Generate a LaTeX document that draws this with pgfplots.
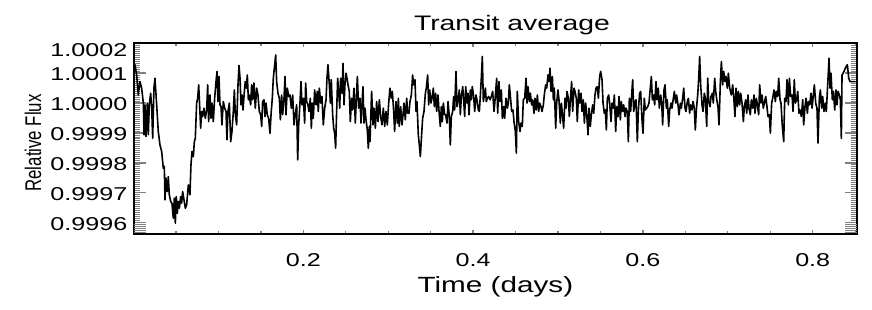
\documentclass[border=0pt]{standalone}
\usepackage{fontspec}
\setmainfont{Liberation Sans}[FakeStretch=1.35]
\newfontfamily\plainsans{Liberation Sans}
\usepackage{pgfplots}
\pgfplotsset{compat=1.18}

% transit light curve
\pgfplotstableread{
x y
0.0005 1.000128
0.0017 1.000128
0.0036 1.000094
0.0056 1.000027
0.0075 1.000072
0.0095 1.000050
0.0115 1.000000
0.0123 0.999894
0.0134 0.999994
0.0146 0.999888
0.0162 1.000000
0.0174 0.999894
0.0185 0.999994
0.0201 1.000033
0.0213 0.999988
0.0225 0.999882
0.0240 1.000050
0.0252 1.000083
0.0272 0.999994
0.0291 0.999905
0.0311 0.999860
0.0331 0.999838
0.0350 0.999782
0.0362 0.999788
0.0370 0.999676
0.0382 0.999749
0.0397 0.999704
0.0409 0.999754
0.0421 0.999693
0.0437 0.999671
0.0452 0.999665
0.0468 0.999615
0.0480 0.999682
0.0492 0.999598
0.0503 0.999687
0.0515 0.999631
0.0527 0.999671
0.0539 0.999648
0.0555 0.999687
0.0566 0.999665
0.0578 0.999704
0.0594 0.999676
0.0610 0.999648
0.0625 0.999659
0.0645 0.999726
0.0664 0.999693
0.0676 0.999793
0.0688 0.999838
0.0704 0.999821
0.0716 0.999871
0.0727 0.999882
0.0743 1.000000
0.0755 1.000016
0.0767 1.000061
0.0778 0.999994
0.0790 0.999916
0.0802 0.999972
0.0814 0.999955
0.0829 0.999983
0.0845 0.999949
0.0861 0.999977
0.0873 1.000061
0.0884 0.999938
0.0900 1.000027
0.0912 0.999949
0.0924 1.000000
0.0939 0.999938
0.0955 1.000016
0.0971 1.000072
0.0983 1.000106
0.0994 1.000005
0.1006 1.000089
0.1018 0.999994
0.1030 0.999988
0.1041 0.999927
0.1057 1.000005
0.1073 0.999983
0.1089 0.999972
0.1100 0.999877
0.1112 0.999972
0.1128 1.000000
0.1144 0.999871
0.1159 0.999905
0.1175 0.999972
0.1187 1.000044
0.1199 0.999961
0.1214 0.999927
0.1230 1.000061
0.1242 1.000126
0.1254 1.000083
0.1265 0.999994
0.1277 1.000027
0.1289 0.999977
0.1305 1.000039
0.1316 1.000072
0.1328 1.000050
0.1340 1.000094
0.1352 1.000011
0.1363 1.000027
0.1379 0.999994
0.1391 1.000061
0.1403 1.000011
0.1418 1.000067
0.1434 0.999983
0.1450 1.000050
0.1465 1.000027
0.1481 0.999972
0.1497 0.999961
0.1509 0.999922
0.1520 1.000005
0.1536 1.000011
0.1548 0.999955
0.1560 1.000000
0.1575 0.999961
0.1591 0.999949
0.1607 0.999899
0.1619 0.999961
0.1634 1.000016
0.1646 1.000083
0.1662 1.000128
0.1674 1.000161
0.1685 1.000072
0.1701 1.000033
0.1717 1.000016
0.1729 0.999944
0.1744 1.000027
0.1756 0.999961
0.1772 1.000016
0.1784 1.000089
0.1795 0.999961
0.1811 1.000050
0.1827 1.000022
0.1842 1.000027
0.1858 0.999983
0.1874 1.000027
0.1890 0.999927
0.1905 0.999961
0.1921 0.999994
0.1933 0.999810
0.1945 0.999927
0.1960 1.000000
0.1972 1.000072
0.1984 0.999994
0.2000 1.000016
0.2015 0.999933
0.2027 1.000067
0.2039 1.000005
0.2054 0.999994
0.2066 0.999972
0.2082 1.000016
0.2094 0.999916
0.2106 1.000000
0.2117 0.999949
0.2133 1.000044
0.2149 0.999994
0.2164 1.000039
0.2176 0.999972
0.2188 1.000050
0.2204 1.000000
0.2219 1.000022
0.2235 0.999927
0.2251 0.999983
0.2267 1.000011
0.2278 1.000083
0.2290 1.000128
0.2306 1.000061
0.2318 1.000000
0.2329 1.000078
0.2345 0.999961
0.2357 0.999916
0.2369 0.999899
0.2380 0.999849
0.2392 0.999972
0.2404 1.000083
0.2416 1.000039
0.2428 0.999983
0.2439 1.000083
0.2455 1.000033
0.2467 1.000133
0.2479 0.999994
0.2490 1.000061
0.2502 1.000100
0.2514 1.000083
0.2526 1.000061
0.2541 1.000039
0.2553 0.999938
0.2569 1.000016
0.2580 0.999977
0.2596 1.000050
0.2612 0.999933
0.2624 1.000016
0.2636 1.000089
0.2651 0.999983
0.2667 1.000016
0.2679 0.999933
0.2690 0.999994
0.2702 1.000055
0.2714 0.999933
0.2726 0.999983
0.2738 0.999944
0.2753 0.999910
0.2765 0.999849
0.2777 0.999922
0.2785 0.999871
0.2804 1.000039
0.2820 0.999927
0.2832 0.999983
0.2848 0.999916
0.2863 1.000005
0.2879 0.999938
0.2895 1.000011
0.2910 0.999955
0.2926 0.999927
0.2942 0.999983
0.2958 0.999922
0.2973 0.999972
0.2989 0.999927
0.3005 1.000000
0.3020 1.000050
0.3036 1.000016
0.3048 1.000039
0.3064 0.999972
0.3075 0.999905
0.3091 1.000005
0.3107 0.999933
0.3119 1.000016
0.3130 0.999922
0.3146 0.999988
0.3162 0.999927
0.3174 0.999961
0.3185 1.000000
0.3201 0.999944
0.3217 1.000016
0.3229 0.999966
0.3244 0.999966
0.3256 1.000005
0.3272 1.000027
0.3287 1.000094
0.3299 1.000061
0.3315 1.000078
0.3327 0.999972
0.3338 1.000005
0.3354 0.999894
0.3366 0.999860
0.3378 0.999821
0.3393 0.999894
0.3405 0.999949
0.3421 0.999972
0.3437 1.000033
0.3448 1.000050
0.3464 1.000094
0.3476 0.999994
0.3488 1.000044
0.3503 1.000000
0.3515 1.000016
0.3531 1.000050
0.3543 0.999988
0.3558 1.000033
0.3570 0.999972
0.3586 1.000027
0.3598 0.999972
0.3613 0.999922
0.3625 0.999988
0.3637 0.999938
0.3649 1.000000
0.3664 0.999961
0.3676 0.999961
0.3692 0.999933
0.3704 1.000005
0.3719 0.999955
0.3731 0.999860
0.3743 0.999955
0.3759 0.999972
0.3770 1.000022
0.3782 0.999977
0.3798 1.000106
0.3810 0.999988
0.3822 1.000005
0.3837 1.000044
0.3849 0.999961
0.3861 1.000022
0.3877 1.000055
0.3888 1.000011
0.3900 0.999955
0.3912 1.000055
0.3928 1.000000
0.3939 1.000033
0.3951 0.999961
0.3967 1.000044
0.3979 1.000011
0.3990 1.000055
0.4006 1.000022
0.4018 0.999972
0.4034 1.000027
0.4045 1.000011
0.4061 0.999977
0.4073 0.999972
0.4085 1.000027
0.4096 1.000083
0.4108 1.000156
0.4120 1.000005
0.4132 1.000027
0.4144 1.000050
0.4155 1.000005
0.4167 1.000016
0.4183 1.000022
0.4199 1.000011
0.4214 1.000022
0.4230 1.000039
0.4246 0.999972
0.4261 1.000022
0.4277 1.000083
0.4289 0.999966
0.4304 1.000072
0.4316 1.000005
0.4332 1.000044
0.4344 0.999949
0.4359 0.999988
0.4371 0.999949
0.4387 1.000016
0.4403 0.999983
0.4414 1.000000
0.4426 1.000061
0.4442 1.000011
0.4454 0.999972
0.4469 0.999977
0.4481 0.999938
0.4497 0.999905
0.4509 0.999832
0.4520 1.000039
0.4536 0.999938
0.4552 0.999905
0.4564 0.999933
0.4579 0.999922
0.4591 1.000011
0.4607 1.000016
0.4623 1.000083
0.4634 1.000000
0.4646 1.000055
0.4662 1.000005
0.4674 1.000033
0.4689 0.999994
0.4701 1.000011
0.4717 0.999966
0.4728 1.000016
0.4744 0.999977
0.4756 1.000027
0.4772 0.999972
0.4784 1.000000
0.4799 0.999988
0.4811 0.999972
0.4827 0.999994
0.4838 1.000027
0.4854 1.000061
0.4866 1.000050
0.4882 1.000094
0.4893 1.000072
0.4905 1.000117
0.4917 1.000039
0.4933 1.000089
0.4945 1.000011
0.4956 1.000050
0.4972 0.999916
0.4984 1.000000
0.4999 1.000044
0.5011 1.000011
0.5027 0.999933
0.5039 1.000000
0.5054 0.999955
0.5066 0.999916
0.5082 1.000016
0.5094 0.999983
0.5106 1.000039
0.5121 1.000016
0.5133 0.999955
0.5149 1.000027
0.5160 1.000072
0.5172 0.999972
0.5188 1.000050
0.5200 1.000039
0.5215 1.000016
0.5227 0.999938
0.5243 1.000044
0.5255 1.000000
0.5270 1.000033
0.5282 0.999972
0.5298 1.000011
0.5310 0.999933
0.5325 1.000000
0.5337 0.999966
0.5353 0.999894
0.5365 0.999983
0.5380 0.999922
0.5392 0.999961
0.5408 0.999994
0.5420 0.999966
0.5435 1.000027
0.5447 1.000050
0.5463 1.000055
0.5475 1.000016
0.5490 1.000089
0.5502 1.000106
0.5518 1.000078
0.5530 1.000000
0.5545 0.999966
0.5557 0.999977
0.5569 0.999910
0.5581 1.000016
0.5596 1.000027
0.5608 1.000000
0.5624 0.999938
0.5636 1.000000
0.5651 0.999983
0.5663 1.000027
0.5679 0.999905
0.5691 0.999988
0.5706 0.999955
0.5718 1.000022
0.5734 0.999944
0.5745 1.000005
0.5761 0.999972
0.5773 0.999994
0.5789 0.999955
0.5800 0.999983
0.5816 0.999972
0.5828 0.999871
0.5840 1.000016
0.5855 0.999972
0.5867 1.000027
0.5879 1.000078
0.5891 0.999972
0.5906 1.000005
0.5918 1.000011
0.5934 0.999871
0.5946 0.999977
0.5961 1.000033
0.5973 1.000039
0.5989 0.999944
0.6001 0.999899
0.6016 1.000016
0.6028 0.999977
0.6044 0.999983
0.6056 0.999988
0.6071 1.000000
0.6083 1.000039
0.6099 1.000089
0.6111 1.000011
0.6126 1.000027
0.6138 0.999994
0.6154 1.000072
0.6166 1.000011
0.6181 1.000050
0.6193 0.999983
0.6209 1.000027
0.6221 1.000000
0.6232 0.999927
0.6248 1.000044
0.6260 1.000061
0.6276 0.999983
0.6287 1.000011
0.6303 0.999922
0.6315 0.999977
0.6331 1.000000
0.6342 0.999983
0.6358 1.000016
0.6370 1.000039
0.6386 1.000000
0.6397 1.000027
0.6413 0.999994
0.6425 0.999961
0.6441 1.000000
0.6452 0.999983
0.6468 1.000016
0.6480 1.000050
0.6496 0.999983
0.6507 0.999972
0.6523 1.000005
0.6535 1.000016
0.6550 0.999966
0.6562 0.999994
0.6578 0.999977
0.6590 1.000005
0.6605 0.999983
0.6617 0.999910
0.6629 0.999977
0.6645 1.000027
0.6657 1.000083
0.6668 1.000156
0.6680 1.000061
0.6696 0.999994
0.6708 0.999972
0.6723 1.000033
0.6735 1.000016
0.6751 0.999922
0.6763 1.000083
0.6774 1.000005
0.6790 0.999988
0.6802 1.000022
0.6818 1.000033
0.6829 1.000000
0.6845 1.000083
0.6857 1.000039
0.6873 1.000005
0.6884 0.999988
0.6896 0.999927
0.6912 1.000072
0.6924 1.000139
0.6939 1.000061
0.6951 1.000106
0.6967 1.000072
0.6979 1.000089
0.6994 1.000050
0.7006 1.000100
0.7022 1.000050
0.7041 1.000027
0.7057 1.000061
0.7069 1.000022
0.7084 0.999955
0.7096 1.000050
0.7112 0.999988
0.7124 1.000039
0.7139 0.999994
0.7151 1.000033
0.7167 1.000000
0.7183 0.999938
0.7194 0.999988
0.7210 1.000011
0.7222 0.999966
0.7238 1.000027
0.7249 0.999983
0.7265 0.999961
0.7277 1.000011
0.7293 0.999983
0.7308 1.000027
0.7320 0.999966
0.7336 1.000016
0.7348 0.999994
0.7363 0.999961
0.7375 1.000061
0.7391 1.000000
0.7403 1.000027
0.7418 0.999983
0.7434 1.000005
0.7446 1.000022
0.7461 0.999988
0.7473 0.999955
0.7489 0.999961
0.7501 0.999899
0.7516 1.000000
0.7528 1.000016
0.7544 1.000044
0.7560 1.000005
0.7571 1.000039
0.7587 1.000022
0.7599 1.000083
0.7615 1.000011
0.7626 1.000000
0.7642 0.999922
0.7658 0.999871
0.7670 1.000016
0.7685 1.000005
0.7697 1.000078
0.7713 0.999994
0.7725 1.000083
0.7740 1.000022
0.7756 1.000027
0.7768 0.999972
0.7783 1.000078
0.7795 1.000000
0.7811 1.000011
0.7823 1.000039
0.7838 0.999966
0.7850 0.999977
0.7866 0.999955
0.7882 1.000011
0.7893 0.999927
0.7909 0.999988
0.7921 1.000016
0.7937 0.999966
0.7948 1.000005
0.7964 0.999994
0.7980 1.000033
0.7992 0.999983
0.8007 1.000027
0.8019 1.000061
0.8035 1.000000
0.8050 0.999983
0.8062 0.999866
0.8078 1.000016
0.8090 1.000044
0.8105 0.999983
0.8117 1.000022
0.8133 0.999972
0.8149 1.000000
0.8160 0.999972
0.8176 1.000061
0.8192 1.000150
0.8204 1.000050
0.8215 1.000100
0.8231 1.000011
0.8243 1.000039
0.8259 0.999977
0.8274 1.000044
0.8286 0.999994
0.8298 1.000039
0.8314 1.000027
0.8325 1.000011
0.8337 0.999882
0.8345 1.000094
0.8369 1.000106
0.8392 1.000122
0.8408 1.000128
0.8424 1.000083
0.8439 1.000072
0.8505 1.000072
}\transit

\begin{document}
\begin{tikzpicture}
\useasboundingbox (0,0) rectangle (872bp,310bp);
\begin{axis}[
  at={(134bp,76bp)}, anchor=south west,
  scale only axis, width=722.7bp, height=191.3bp,
  xmin=0.0005, xmax=0.8518,
  ymin=0.999562, ymax=1.000202,
  tick pos=both, tick align=inside,
  xtick={0.2,0.4,0.6,0.8},
  minor xtick={0.05,0.1,0.15,0.25,0.3,0.35,0.45,0.5,0.55,0.65,0.7,0.75,0.85},
  ytick={0.9996,0.9997,0.9998,0.9999,1.0000,1.0001,1.0002},
  yticklabels={0.9996,0.9997,0.9998,0.9999,1.0000,1.0001,{\raisebox{-6bp}[\height][\depth]{1.0002}}},
  minor y tick num=14,
  extra y ticks={0.9995933,0.9995867,0.99958,0.9995733,0.9995667},
  extra y tick labels={},
  extra y tick style={major tick length=6bp, every major tick/.append style={line width=0.9bp}},
  scaled x ticks=false, scaled y ticks=false,
  xticklabel style={anchor=base, yshift=-32.5bp},
  yticklabel style={anchor=east, inner sep=0pt, xshift=-6.5bp, yshift=-1.3bp},
  tick label style={font=\fontsize{18.6bp}{22bp}\selectfont},
  /pgf/number format/assume math mode=true,
  xtick style={/pgfplots/major tick length=4bp, line width=1.4bp},
  minor x tick style={/pgfplots/minor tick length=3bp, line width=1.2bp},
  ytick style={/pgfplots/major tick length=12bp, line width=1.4bp},
  minor y tick style={/pgfplots/minor tick length=6bp, line width=0.9bp},
  axis line style={line width=1.8bp},
  title={Transit average},
  title style={at={(0.523,1)}, anchor=base, yshift=6bp,
               font=\fontsize{21bp}{25bp}\selectfont},
  xlabel={Time (days)},
  xlabel style={at={(0.5,0)}, anchor=base, yshift=-58bp,
                font=\fontsize{22bp}{26bp}\selectfont},
  ylabel={\scalebox{1}[1.35]{Relative Flux}},
  ylabel style={at={(0,0.476)}, anchor=center, yshift=101bp,
                font=\plainsans\fontsize{16.8bp}{20bp}\selectfont},
]
\addplot[black, line width=1.6bp, line join=round] table[x=x, y=y] {\transit};
\end{axis}
\end{tikzpicture}
\end{document}
